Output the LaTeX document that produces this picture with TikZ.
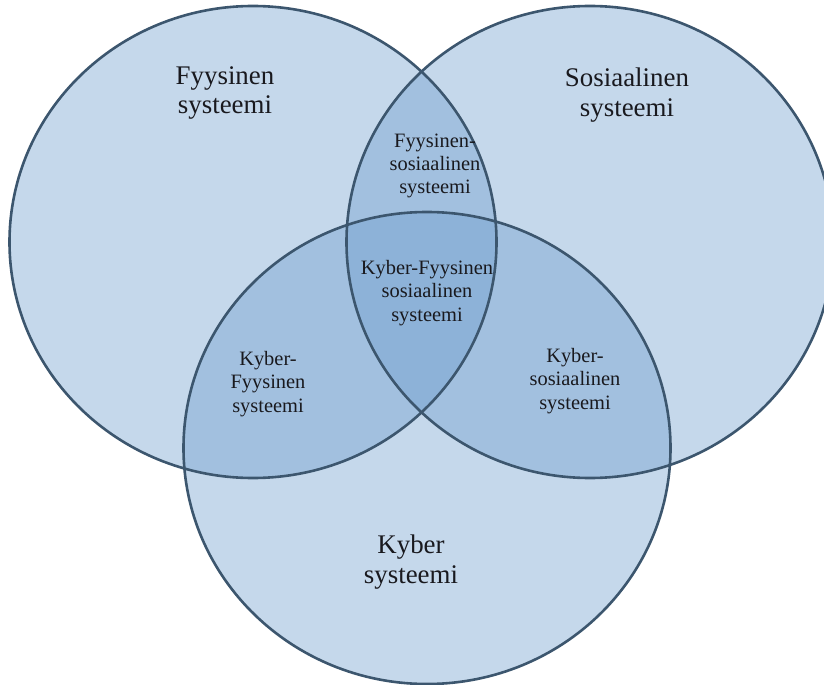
\documentclass[tikz,border=0pt]{standalone}
\usepackage{fontspec}
\setmainfont{Liberation Serif}
\usetikzlibrary{shapes.geometric}
\definecolor{setblue}{RGB}{110,157,205}
\definecolor{rim}{RGB}{60,86,110}
\definecolor{ink}{RGB}{25,25,30}
\tikzset{
  venn/.style={ellipse,minimum width=487bp,minimum height=472bp,inner sep=0pt,
    fill=setblue,fill opacity=0.4},
  outline/.style={draw=rim,line width=2.6bp},
  big label/.style={font=\fontsize{27}{30}\selectfont,align=center,text=ink},
  small label/.style={font=\fontsize{20.5}{23.5}\selectfont,align=center,text=ink},
}
\begin{document}
\begin{tikzpicture}[x=1bp,y=-1bp]
    \useasboundingbox (0,0) rectangle (824,685);
    % the three sets
    \node[venn] (fys) at (253,242) {};
    \node[venn] (sos) at (590,242) {};
    \node[venn] (kyb) at (427,448) {};
    \foreach \s in {fys,sos,kyb}
      \draw[outline] (\s.center) ellipse [x radius=243.5bp,y radius=236bp];
    % labels
    \node[big label] (fystxt) at (225,93) {Fyysinen\\systeemi};
    \node[big label] (sostxt) at (627,95) {Sosiaalinen\\systeemi};
    \node[big label] (kybtxt) at (411,562) {Kyber\\systeemi};
    \node[small label] (fs) at (435,166) {Fyysinen-\\sosiaalinen\\systeemi};
    \node[small label] (kfs) at (427,293) {Kyber-Fyysinen\\sosiaalinen\\systeemi};
    \node[small label] (kf) at (268,384) {Kyber-\\Fyysinen\\systeemi};
    \node[small label] (ks) at (575,381) {Kyber-\\sosiaalinen\\systeemi};
  \end{tikzpicture}
\end{document}
